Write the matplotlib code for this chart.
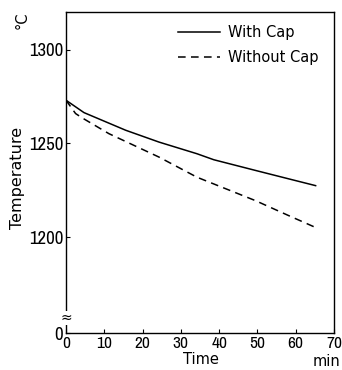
import matplotlib
matplotlib.use("Agg")
import matplotlib.pyplot as plt
from matplotlib import font_manager as fm

# Data
t_with = [0, 4.7, 15.6, 24.3, 34.2, 38.6, 49.5, 58.2, 65.2]
T_with = [1273, 1266.4, 1257, 1250.7, 1244.5, 1241.3, 1235.6, 1231.1, 1227.5]
t_without = [0, 2.5, 4.3, 11.2, 24.3, 34.2, 40.8, 49.5, 58.2, 65.2]
T_without = [1273, 1265.9, 1263.5, 1255.2, 1242.7, 1232, 1226.6, 1219.5, 1211.5, 1205.2]

x_ticks = [0, 10, 20, 30, 40, 50, 60, 70]
y_ticks = [1149, 1200, 1250, 1300]
y_tick_labels = ["0", "1200", "1250", "1300"]

fonts = fm.fontManager.ttflist
narrow = None
for f in fonts:
    if "Narrow" in f.name or "Condensed" in f.name:
        narrow = f.name
        break
if narrow is None:
    narrow = "Liberation Sans"

fig = plt.figure(figsize=(3.42, 3.70), dpi=100)
ax = fig.add_axes([66/342, 1-333/370, (334-66)/342, (333-12)/370])

ax.plot(t_with, T_with, color="black", lw=1.1, label="With Cap")
ax.plot(t_without, T_without, color="black", lw=1.1, ls=(0, (5, 3.5)), label="Without Cap")

ax.set_xlim(0, 70)
ax.set_ylim(1149, 1320)
ax.set_xticks(x_ticks)
ax.set_xticklabels([str(v) for v in x_ticks], fontfamily=narrow, fontsize=12.5)
ax.set_yticks(y_ticks)
ax.set_yticklabels(y_tick_labels, fontfamily=narrow, fontsize=13.5)
ax.tick_params(direction="in", length=3, width=0.8, pad=2)
for s in ax.spines.values():
    s.set_linewidth(1.0)

# Axis break mark on left spine
ax.text(0, 1157, "≈", transform=ax.transData, ha="center", va="center",
        fontsize=10, fontfamily="DejaVu Sans",
        bbox=dict(facecolor="white", edgecolor="none", pad=0.2))

fig.text(22/342, 1-20/370, "°C", rotation=90, fontsize=10.5,
         ha="center", va="center")
fig.text(18/342, 1-178/370, "Temperature", rotation=90, fontsize=11.5,
         ha="center", va="center")
fig.text(201/342, 1-360/370, "Time", fontsize=10.5, ha="center", va="center")
fig.text(326/342, 1-361/370, "min", fontsize=10.5, ha="center", va="center")

leg = ax.legend(loc="upper left", bbox_to_anchor=(178/342, 1-25/370),
                bbox_transform=fig.transFigure, frameon=False,
                prop={"size": 10.5}, handlelength=2.9,
                handletextpad=0.5, labelspacing=0.7, borderaxespad=0,
                borderpad=0)

fig.savefig("out.png", dpi=100)
